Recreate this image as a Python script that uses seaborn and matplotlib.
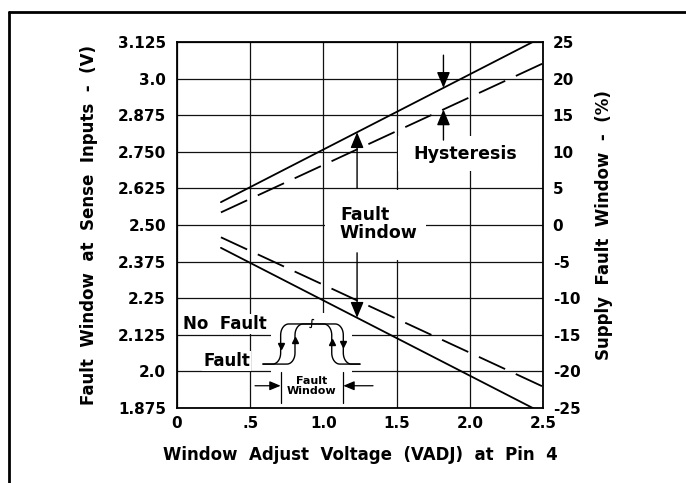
import numpy as np
import pandas as pd
import seaborn as sns
import matplotlib.pyplot as plt
from matplotlib.patches import Rectangle
from matplotlib.lines import Line2D

# window adjust voltage at the two ends of each threshold curve (V)
vadj = [0.3, 2.5]
# threshold voltages at those ends (V); solid = fault trip, dashed = reset
upper_trip = [2.578, 3.143]
upper_reset = [2.543, 3.052]
lower_trip = [2.422, 1.857]
lower_reset = [2.458, 1.948]

x_ticks = [0, 0.5, 1.0, 1.5, 2.0, 2.5]
x_tick_labels = ["0", ".5", "1.0", "1.5", "2.0", "2.5"]
v_ticks = [1.875, 2.0, 2.125, 2.25, 2.375, 2.5, 2.625, 2.75, 2.875, 3.0, 3.125]
v_tick_labels = ["1.875", "2.0", "2.125", "2.25", "2.375", "2.50",
                 "2.625", "2.750", "2.875", "3.0", "3.125"]
pct_ticks = [-25, -20, -15, -10, -5, 0, 5, 10, 15, 20, 25]
pct_tick_labels = ["-25", "-20", "-15", "-10", "-5", "0", "5", "10", "15", "20", "25"]

sns.set_style("white")
plt.rcParams["font.family"] = ["DejaVu Sans"]
plt.rcParams["font.weight"] = "bold"
plt.rcParams["axes.labelweight"] = "bold"
plt.rcParams["axes.unicode_minus"] = False
for key in ["text.color", "axes.labelcolor", "xtick.color", "ytick.color"]:
    plt.rcParams[key] = "black"

fig = plt.figure(figsize=(6.86, 4.83), dpi=100)
ax = fig.add_axes([177 / 686, 75 / 483, 366 / 686, 366 / 483])

# threshold curves
dash = (0, (16, 6.5))
for ys, ls in [(upper_trip, "-"), (upper_reset, dash),
               (lower_trip, "-"), (lower_reset, dash)]:
    df = pd.DataFrame({"vadj": vadj, "volts": ys})
    sns.lineplot(data=df, x="vadj", y="volts", ax=ax, color="black",
                 lw=1.3, linestyle=ls, zorder=3)

ax.set_xlim(0, 2.5)
ax.set_ylim(1.875, 3.125)
ax.set_xticks(x_ticks)
ax.set_xticklabels(x_tick_labels)
ax.set_yticks(v_ticks)
ax.set_yticklabels(v_tick_labels)
ax.tick_params(length=0, labelsize=11)
ax.tick_params(axis="y", pad=8)
ax.tick_params(axis="x", pad=6)
ax.set_axisbelow(True)
ax.grid(True, color="#111111", lw=0.9)
for s in ax.spines.values():
    s.set_color("black")
    s.set_linewidth(1.3)

ax.set_xlabel("Window  Adjust  Voltage  (VADJ)  at  Pin  4", fontsize=12)
ax.xaxis.set_label_coords(0.5, -0.105)
ax.set_ylabel("Fault  Window  at  Sense  Inputs  -  (V)", fontsize=12)
ax.yaxis.set_label_coords(-0.216, 0.5)

ax2 = ax.twinx()
ax2.set_ylim(-25, 25)
ax2.set_yticks(pct_ticks)
ax2.set_yticklabels(pct_tick_labels)
ax2.tick_params(length=0, labelsize=11, pad=7)
ax2.grid(False)
for s in ax2.spines.values():
    s.set_visible(False)
ax2.set_ylabel("Supply  Fault  Window  -  (%)", fontsize=12)
ax2.yaxis.set_label_coords(1.142, 0.5)

# white boxes that cut the grid behind the annotations
for x0, y0, w, h in [(1.508, 2.683, 0.99, 0.12),
                     (1.008, 2.381, 0.692, 0.238),
                     (0.642, 1.876, 0.553, 0.324)]:
    ax.add_patch(Rectangle((x0, y0), w, h, facecolor="white",
                           edgecolor="none", zorder=1))

head = dict(arrowstyle="-|>,head_length=0.6,head_width=0.25", color="black",
            lw=1.0, shrinkA=0, shrinkB=0, mutation_scale=16)

# fault window arrows
xa = 1.23
ax.annotate("", xy=(xa, np.interp(xa, vadj, upper_trip)), xytext=(xa, 2.625),
            arrowprops=head, zorder=4)
ax.annotate("", xy=(xa, np.interp(xa, vadj, lower_trip)), xytext=(xa, 2.405),
            arrowprops=head, zorder=4)
ax.text(1.113, 2.505, "Fault\nWindow", fontsize=12.5, ha="left", va="center",
        linespacing=1.0, zorder=4)

# hysteresis arrows
xh = 1.82
ax.annotate("", xy=(xh, np.interp(xh, vadj, upper_trip)), xytext=(xh, 3.08),
            arrowprops=head, zorder=4)
ax.annotate("", xy=(xh, np.interp(xh, vadj, upper_reset)), xytext=(xh, 2.79),
            arrowprops=head, zorder=4)
ax.text(1.967, 2.742, "Hysteresis", fontsize=12.5, ha="center", va="center",
        zorder=4)


# inset sketch of the comparator response
def step_path(xl, xr, yb=2.025, yt=2.162, x0=0.587, x1=1.25, rx=0.055, ry=0.038):
    t = np.linspace(0, np.pi / 2, 12)
    xs = [x0]
    ys = [yb]
    # bottom-left corner
    xs += list(xl - rx + rx * np.sin(t)); ys += list(yb + ry - ry * np.cos(t))
    # top-left corner
    xs += list(xl + rx - rx * np.cos(t)); ys += list(yt - ry + ry * np.sin(t))
    # top-right corner
    xs += list(xr - rx + rx * np.sin(t)); ys += list(yt - ry + ry * np.cos(t))
    # bottom-right corner
    xs += list(xr + rx - rx * np.cos(t)); ys += list(yb + ry - ry * np.sin(t))
    xs.append(x1)
    ys.append(yb)
    return xs, ys


for xl, xr in [(0.708, 1.136), (0.806, 1.057)]:
    px, py = step_path(xl, xr)
    ax.plot(px, py, color="black", lw=1.0, zorder=4)

ax.plot([0.708, 1.136], [2.088, 2.095], "v", color="black", ms=5, zorder=5)
ax.plot([0.806, 1.057], [2.108, 2.10], "^", color="black", ms=5, zorder=5)
ax.text(0.92, 2.166, "\u222b", fontsize=7, ha="center", va="center", zorder=5)

ax.text(0.041, 2.162, "No  Fault", fontsize=12, ha="left", va="center",
        zorder=4, bbox=dict(facecolor="white", edgecolor="none", pad=1))
ax.text(0.178, 2.035, "Fault", fontsize=12, ha="left", va="center",
        zorder=4, bbox=dict(facecolor="white", edgecolor="none", pad=1))

# fault window dimension below the sketch
for xv in [0.708, 1.136]:
    ax.plot([xv, xv], [1.892, 1.998], color="black", lw=0.9, zorder=4)
small = dict(arrowstyle="-|>,head_length=0.6,head_width=0.25", color="black",
             lw=0.9, shrinkA=0, shrinkB=0, mutation_scale=11)
ax.annotate("", xy=(0.708, 1.951), xytext=(0.533, 1.951), arrowprops=small)
ax.annotate("", xy=(1.136, 1.951), xytext=(1.339, 1.951), arrowprops=small)
ax.text(0.922, 1.950, "Fault\nWindow", fontsize=8, ha="center", va="center",
        linespacing=1.0, zorder=4)

# outer frame of the figure
fig.add_artist(Line2D([9 / 686, 9 / 686], [0, 1 - 12 / 483], color="black", lw=2))
fig.add_artist(Line2D([9 / 686, 1], [1 - 12 / 483, 1 - 12 / 483], color="black", lw=2))

fig.savefig("out.png", dpi=100)
